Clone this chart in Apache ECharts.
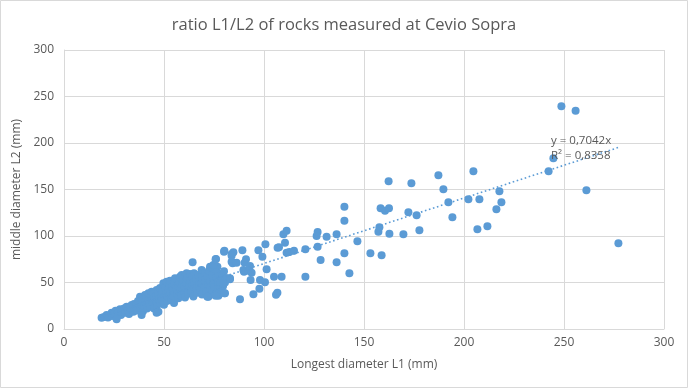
<!DOCTYPE html>
<html>
<head>
<meta charset="utf-8">
<script src="https://cdn.jsdelivr.net/npm/echarts@6/dist/echarts.min.js"></script>
<style>
html,body{margin:0;padding:0;background:#fff;}
#chart{width:688px;height:388px;}
</style>
</head>
<body>
<div id="chart"></div>
<script>
// Longest diameter L1 (mm) and middle diameter L2 (mm)
const L1 = [
  18.8,20,21.3,22,23.8,24,25.8,25,
  28,27,28.5,29,30,30.5,31.3,32,32.5,33.8,34,34.7,35.5,35,33,
  36,36.5,37,38,38,38.5,39,39.5,40.5,40,40.5,41,41.3,41.5,42.2,42,42.5,43,43.5,43.8,44,44.7,44.5,45,45,
  46.3,46.3,46,46.5,47,47.5,48,48,48.5,49,49.2,49.7,50,50,50.5,51,51.3,51.5,51.7,52,52.5,53,53,53.5,53.8,54,54.5,54.5,55,55.5,55,
  56,56.5,57,57.2,57.5,58,58,58.5,58.8,59,59.5,60,60,60.5,60.5,61,61.3,61.5,62,62,62.5,63,63,63.5,64,64,64.7,65,65,
  66,66,66.5,67,67.5,68,68.8,68.8,69,69,70,70.5,70.5,71,71.5,72,72.2,72.5,73,73,74,74,74.5,75,75,
  76.3,77,77,78,79,79.5,80,80.5,
  64.3,76,76.7,75.5,80,83.8,83.8,73,74.7,77.2,78.8,81.3,76.3,78.8,77.2,80.5,47.2,38.8,26.3,46.3,
  75.8,84.3,86.3,90,81.3,83,78,79.7,76.3,75.8,80.2,71.7,
  91,90.3,93,89.7,92.2,93.8,83,93.3,101.3,98,100.5,97.7,94.7,105,108.8,120.7,106.7,106,88,
  100.7,97.2,99.2,89.2,84.7,80.2,83.8,
  109.7,111.3,110.5,106.8,107.5,111.3,112.7,115,120.7,
  140.2,140.2,126.8,126.3,131.3,136.3,126.8,146.7,128.3,136.3,140.2,142.7,153.2,
  158.3,160.5,162.5,158.8,157.7,157.2,
  173.7,162.3,172.2,176.3,177.7,169.7,162.7,
  187.2,189.7,192.2,194.2,
  204.7,217.7,218.7,216.2,202.2,207.7,211.7,206.7,
  248.7,255.8,244.7,242.3,261.2,277.2
];
const L2 = [
  12.2,13,15,12.5,17.5,14,19.7,16,
  21.2,17,15,19,22,17.5,24,20,16,25.8,21,18.6,22.3,27,23,
  25,20,30,34.7,23,27,31,19,36.6,25,29,33,25.8,22,38.4,30,27,24,34,40.1,31,27.6,37,22,33,
  41.9,29.4,35,25,38,32,44,28,36,40,31,49.1,34,26,44,38,50.9,30,35,42,47,51.9,39,33,31.2,45,41,36,49,54.5,28,
  44,38,47,33,51,56.2,42,36,58,48,53,40,45,58,34,50,59.9,55,43,38,47,59.1,52,41,56,46,35,50,60,
  44,54,39,58,48,42,63.4,49.1,55,37,45,52.7,60,40,57,48,34.7,63,44,53,58,40,49,62,45,
  55,47,60,43,57,46,62,50,
  71.7,75.3,67,64.5,83,80.6,72.4,67,68.8,50.9,52.7,54.5,38.4,40.1,35.8,38.4,18.6,15,10.4,17.5,
  75,70.6,71.3,61.6,54.5,54.5,50.9,49.1,37.6,35.8,38.4,34.7,
  75,71.3,67.7,63.4,62.7,60.5,53.4,52.7,64.2,52.7,50.2,43.3,37.3,56.2,56.2,56.2,39,36.9,31.9,
  91,84.6,77.8,84.6,82.5,84.2,78.8,
  101.8,105.7,92.8,87.4,87.8,82,82.8,84.2,85.7,
  131.5,116.5,104.3,100,99.3,101.8,88.5,94.3,74.2,71.7,81.4,59.9,81.4,
  129.8,127.2,129.8,79.2,109.3,104.6,
  156.7,158.8,125.5,122.3,106.1,101.8,102.5,
  165.3,150.2,136.2,120.1,
  169.6,148.1,136.2,128.7,139.5,139.5,110.4,107.2,
  239.5,234.8,183.5,169.6,149.1,92.1
];
const xTicks = [0, 50, 100, 150, 200, 250, 300];
const yTicks = [0, 50, 100, 150, 200, 250, 300];
const trendSlope = 0.7042;
const trendR2 = '0,8358';
const titleText = 'ratio L1/L2 of rocks measured at Cevio Sopra';
const xName = 'Longest diameter L1 (mm)';
const yName = 'middle diameter L2 (mm)';

const points = L1.map((x, i) => [x, L2[i]]);
const xMin = Math.min(...L1), xMax = Math.max(...L1);
const trend = [[xMin, trendSlope * xMin], [xMax, trendSlope * xMax]];

const FONT = '"Open Sans", "Liberation Sans", sans-serif';
const GREY = '#595959';
const chart = echarts.init(document.getElementById('chart'), null, {renderer: 'canvas'});
chart.setOption({
  animation: false,
  backgroundColor: '#ffffff',
  textStyle: {fontFamily: FONT},
  title: {
    text: titleText, left: 'center', top: 12,
    textStyle: {fontFamily: FONT, fontSize: 16.5, fontWeight: 'normal', color: GREY}
  },
  grid: {left: 64, right: 24, top: 50, bottom: 59, containLabel: false},
  xAxis: {
    type: 'value', min: xTicks[0], max: xTicks[xTicks.length - 1], interval: xTicks[1] - xTicks[0],
    name: xName, nameLocation: 'middle', nameGap: 30,
    nameTextStyle: {fontFamily: FONT, fontSize: 12, color: GREY},
    axisLine: {show: true, lineStyle: {color: '#D9D9D9'}},
    axisTick: {show: false},
    axisLabel: {fontFamily: FONT, fontSize: 12, color: GREY, margin: 8},
    splitLine: {show: true, lineStyle: {color: '#D9D9D9', width: 1}}
  },
  yAxis: {
    type: 'value', min: yTicks[0], max: yTicks[yTicks.length - 1], interval: yTicks[1] - yTicks[0],
    name: yName, nameLocation: 'middle', nameGap: 36, nameRotate: 90,
    nameTextStyle: {fontFamily: FONT, fontSize: 12, color: GREY},
    axisLine: {show: true, lineStyle: {color: '#D9D9D9'}},
    axisTick: {show: false},
    axisLabel: {fontFamily: FONT, fontSize: 12, color: GREY, margin: 10},
    splitLine: {show: true, lineStyle: {color: '#D9D9D9', width: 1}}
  },
  series: [
    {
      type: 'scatter', data: points, symbol: 'circle', symbolSize: 8,
      itemStyle: {color: '#5B9BD5', opacity: 1}, z: 3
    },
    {
      type: 'line', data: trend, symbol: 'none', z: 4,
      lineStyle: {color: '#5B9BD5', width: 1.6, type: [1.6, 2.6]}
    }
  ],
  graphic: [
    {type: 'rect', shape: {x: 0.5, y: 0.5, width: 687, height: 387},
     style: {fill: 'none', stroke: '#D9D9D9', lineWidth: 1}, silent: true, z: 0},
    {type: 'text', left: 551, top: 133, z: 10,
     style: {text: 'y = ' + String(trendSlope).replace('.', ',') + 'x\nR² = ' + trendR2,
             font: '11.5px ' + FONT, fill: GREY, lineHeight: 15}}
  ]
});
</script>
</body>
</html>
